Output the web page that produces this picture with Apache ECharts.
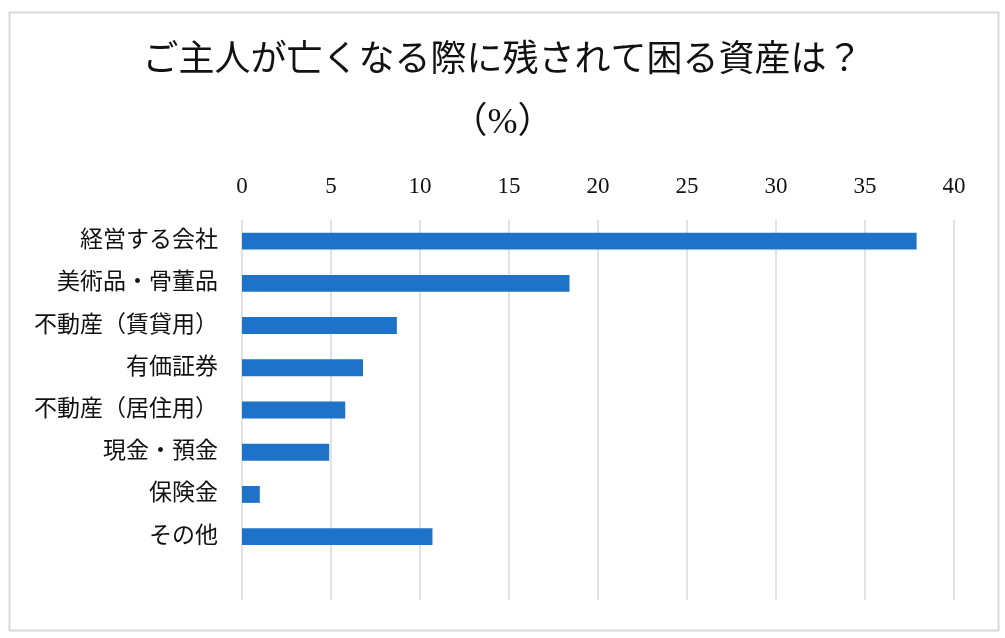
<!DOCTYPE html>
<html>
<head>
<meta charset="utf-8">
<script src="https://cdn.jsdelivr.net/npm/echarts@6/dist/echarts.min.js"></script>
<style>
html,body{margin:0;padding:0;background:#fff;}
#c{width:1005px;height:638px;}
</style>
</head>
<body>
<div id="c"></div>
<script>
var titleText = 'ご主人が亡くなる際に残されて困る資産は？';
var subtitleText = '（%）';
var categories = ['経営する会社', '美術品・骨董品', '不動産（賃貸用）', '有価証券', '不動産（居住用）', '現金・預金', '保険金', 'その他'];
var values = [37.9, 18.4, 8.7, 6.8, 5.8, 4.9, 1.0, 10.7];
var xTicks = [0, 5, 10, 15, 20, 25, 30, 35, 40];

var FONT = '"Liberation Serif", "Noto Sans CJK JP", serif';
var chart = echarts.init(document.getElementById('c'));
chart.setOption({
  backgroundColor: '#fff',
  animation: false,
  title: [
    { text: titleText, left: 'center', top: 39, textStyle: { fontFamily: FONT, fontSize: 36, fontWeight: 'normal', color: '#111' } },
    { text: subtitleText, left: 'center', top: 101, textStyle: { fontFamily: FONT, fontSize: 36, fontWeight: 'normal', color: '#111' } }
  ],
  graphic: [{
    type: 'rect', left: 7, top: 10, silent: true,
    shape: { width: 989, height: 618 },
    style: { fill: 'none', stroke: '#d9d9d9', lineWidth: 2 }
  }],
  grid: { left: 242, right: 51, top: 220, bottom: 38, containLabel: false },
  xAxis: {
    type: 'value', position: 'top',
    min: xTicks[0], max: xTicks[xTicks.length - 1], interval: 5,
    axisLine: { show: false }, axisTick: { show: false },
    axisLabel: { margin: 22, fontFamily: FONT, fontSize: 23, color: '#111' },
    splitLine: { show: true, lineStyle: { color: '#d9d9d9', width: 1.5 } }
  },
  yAxis: {
    type: 'category', inverse: true,
    data: categories.concat(['']),
    axisLine: { show: false }, axisTick: { show: false },
    axisLabel: { margin: 24, fontFamily: FONT, fontSize: 23, color: '#111' }
  },
  series: [{
    type: 'bar', data: values, barWidth: '40%',
    itemStyle: { color: '#1e73c8' }
  }]
});
</script>
</body>
</html>
